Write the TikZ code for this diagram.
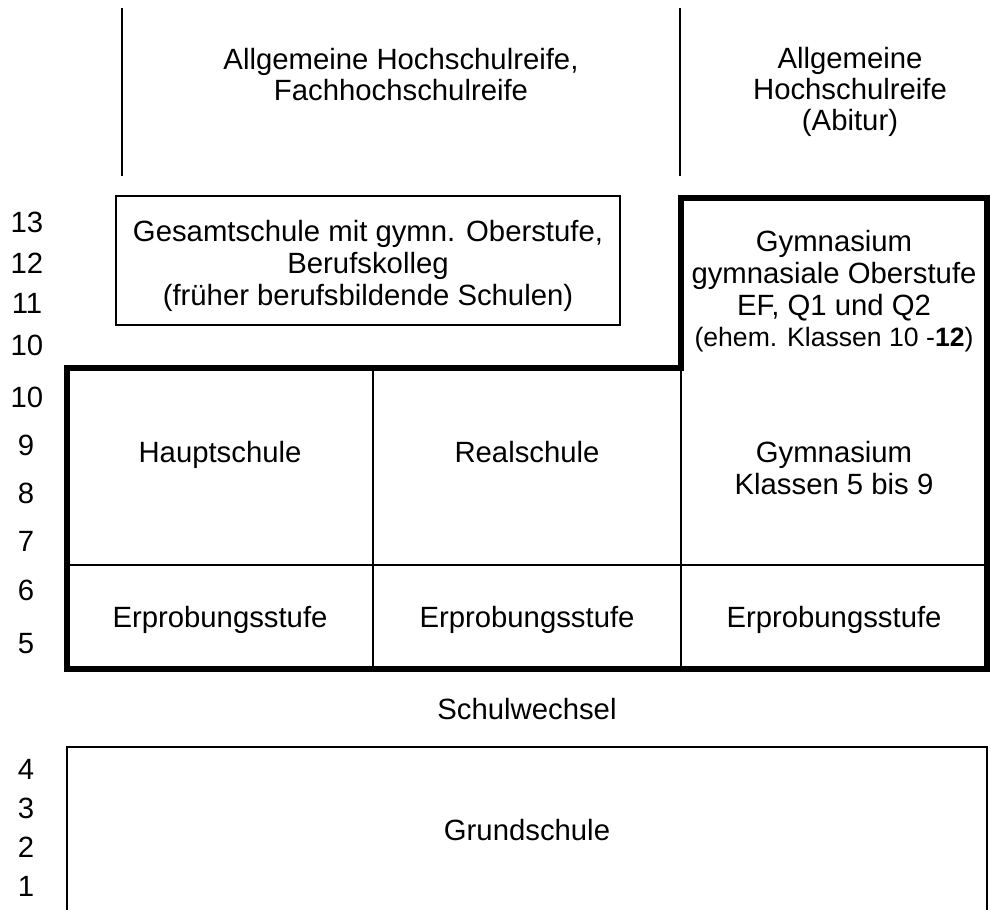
\documentclass[tikz,border=0pt]{standalone}
\usepackage{fontspec}
\setmainfont{Liberation Sans}
\begin{document}
\begin{tikzpicture}[x=1pt,y=-1pt,
  lbl/.style={font=\fontsize{29.3}{31}\selectfont, inner sep=0pt, anchor=base},
  smalllbl/.style={font=\fontsize{26.6}{31}\selectfont, inner sep=0pt, anchor=base},
  thinline/.style={line width=1.8pt},
  thickline/.style={line width=5.5pt, line join=miter},
]
\useasboundingbox (0,0) rectangle (991,910);

% coordinates
\coordinate (tl1) at (122,8);  \coordinate (tl2) at (122,176);
\coordinate (tr1) at (680,8);  \coordinate (tr2) at (680,176);
\coordinate (gA) at (116,196); \coordinate (gB) at (620,325);
\coordinate (o1) at (67,368);  \coordinate (o2) at (681,368);
\coordinate (o3) at (681,198); \coordinate (o4) at (987,198);
\coordinate (o5) at (987,669); \coordinate (o6) at (67,669);
\coordinate (h1) at (67,565);  \coordinate (h2) at (987,565);
\coordinate (v1) at (373,368); \coordinate (v2) at (373,669);
\coordinate (w2) at (681,669);
\coordinate (g1) at (67,910);  \coordinate (g2) at (67,747);
\coordinate (g3) at (987,747); \coordinate (g4) at (987,910);

% lines
\draw[thinline] (tl1) -- (tl2);
\draw[thinline] (tr1) -- (tr2);
\draw[thinline] (gA) rectangle (gB);
\draw[thinline] (h1) -- (h2);
\draw[thinline] (v1) -- (v2);
\draw[thinline] (o2) -- (w2);
\draw[thickline] (o1) -- (o2) -- (o3) -- (o4) -- (o5) -- (o6) -- cycle;
\draw[thinline] (g1) -- (g2) -- (g3) -- (g4);

% top texts
\node[lbl] (ahr1) at (401,69) {Allgemeine Hochschulreife,};
\node[lbl] (ahr2) at (401,100) {Fachhochschulreife};
\node[lbl] (abi1) at (850,68) {Allgemeine};
\node[lbl] (abi2) at (850,99) {Hochschulreife};
\node[lbl] (abi3) at (850,130) {(Abitur)};

% Gesamtschule
\node[lbl] (ges1) at (368,241) {Gesamtschule mit gymn. Oberstufe,};
\node[lbl] (ges2) at (368,273) {Berufskolleg};
\node[lbl] (ges3) at (368,305) {(früher berufsbildende Schulen)};

% Gymnasium Oberstufe
\node[lbl] (gym1) at (834,251) {Gymnasium};
\node[lbl] (gym2) at (834,283) {gymnasiale Oberstufe};
\node[lbl] (gym3) at (834,315) {EF, Q1 und Q2};
\node[smalllbl] (gym4) at (834,346) {(ehem. Klassen 10 -\textbf{12})};

% Sek I
\node[lbl] (haupt) at (220,462) {Hauptschule};
\node[lbl] (real) at (527,462) {Realschule};
\node[lbl] (gymu1) at (834,462) {Gymnasium};
\node[lbl] (gymu2) at (834,494) {Klassen 5 bis 9};
\node[lbl] (erp1) at (220,627) {Erprobungsstufe};
\node[lbl] (erp2) at (527,627) {Erprobungsstufe};
\node[lbl] (erp3) at (834,627) {Erprobungsstufe};

\node[lbl] (wechsel) at (527,719) {Schulwechsel};
\node[lbl] (grund) at (527,840) {Grundschule};

% grade numbers
\node[lbl] (n13) at (27,232) {13};
\node[lbl] (n12) at (27,273) {12};
\node[lbl] (n11) at (27,313) {11};
\node[lbl] (n10a) at (27,355) {10};
\node[lbl] (n10b) at (27,407) {10};
\node[lbl] (n9) at (26,455) {9};
\node[lbl] (n8) at (26,503) {8};
\node[lbl] (n7) at (26,551) {7};
\node[lbl] (n6) at (26,600) {6};
\node[lbl] (n5) at (26,653) {5};
\node[lbl] (n4) at (26,779) {4};
\node[lbl] (n3) at (26,818) {3};
\node[lbl] (n2) at (26,857) {2};
\node[lbl] (n1) at (26,896) {1};
\end{tikzpicture}
\end{document}
